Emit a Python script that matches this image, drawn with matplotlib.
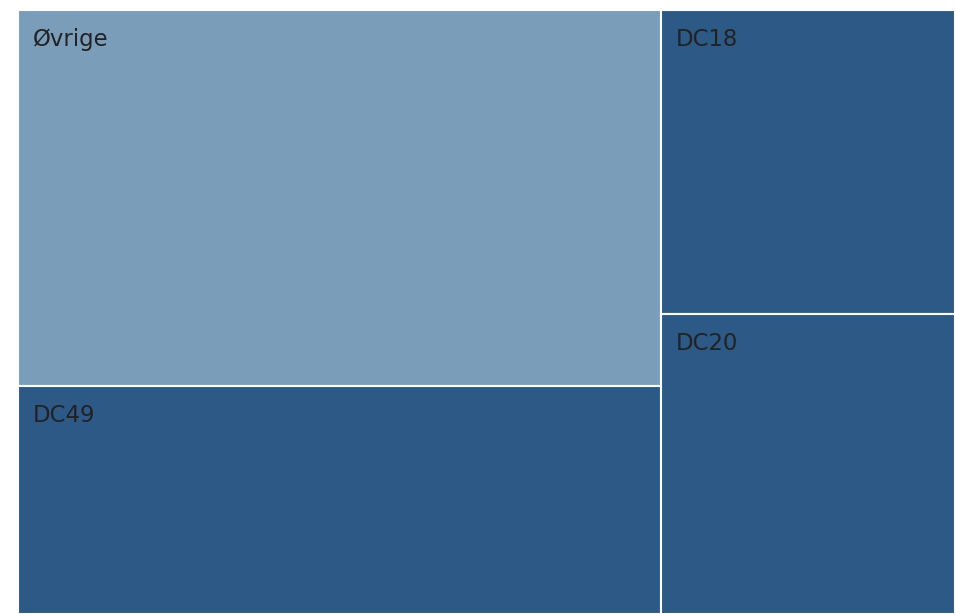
import matplotlib.pyplot as plt
from matplotlib.patches import Rectangle

labels = ["Øvrige", "DC49", "DC18", "DC20"]
values = [42.7, 25.9, 15.8, 15.6]
colors = ["#7a9db9", "#2d5986", "#2d5986", "#2d5986"]

W, H = 937.0, 604.0
PHI = (1 + 5 ** 0.5) / 2


def squarify(vals, x0, y0, x1, y1, ratio=PHI):
    # squarified layout with golden-ratio target (same rule as d3)
    rects = []
    value = sum(vals)
    i0 = i1 = 0
    n = len(vals)
    while i0 < n:
        dx, dy = x1 - x0, y1 - y0
        s = vals[i1]
        i1 += 1
        mn = mx = s
        alpha = max(dy / dx, dx / dy) / (value * ratio)
        beta = s * s * alpha
        min_ratio = max(mx / beta, beta / mn)
        while i1 < n:
            v = vals[i1]
            s += v
            mn, mx = min(mn, v), max(mx, v)
            beta = s * s * alpha
            new_ratio = max(mx / beta, beta / mn)
            if new_ratio > min_ratio:
                s -= v
                break
            min_ratio = new_ratio
            i1 += 1
        row = vals[i0:i1]
        if dx < dy:
            # strip along the top
            h = dy * s / value
            xx = x0
            for v in row:
                w = dx * v / s
                rects.append((xx, y0, w, h))
                xx += w
            y0 += h
        else:
            # column on the left
            w = dx * s / value
            yy = y0
            for v in row:
                h = dy * v / s
                rects.append((x0, yy, w, h))
                yy += h
            x0 += w
        value -= s
        i0 = i1
    return rects


rects = squarify(values, 0, 0, W, H)

fig = plt.figure(figsize=(9.55, 6.14), dpi=100)
ax = fig.add_axes([18 / 955, 0, W / 955, H / 614])
ax.set_xlim(0, W)
ax.set_ylim(H, 0)
ax.axis("off")

for (x, y, w, h), lab, c in zip(rects, labels, colors):
    ax.add_patch(Rectangle((x, y), w, h, facecolor=c, edgecolor="white",
                           linewidth=1.5, clip_on=True))
    ax.text(x + 15, y + 36, lab, fontsize=16.4, color="#222222",
            va="baseline", ha="left")

fig.savefig("out.png", dpi=100)
